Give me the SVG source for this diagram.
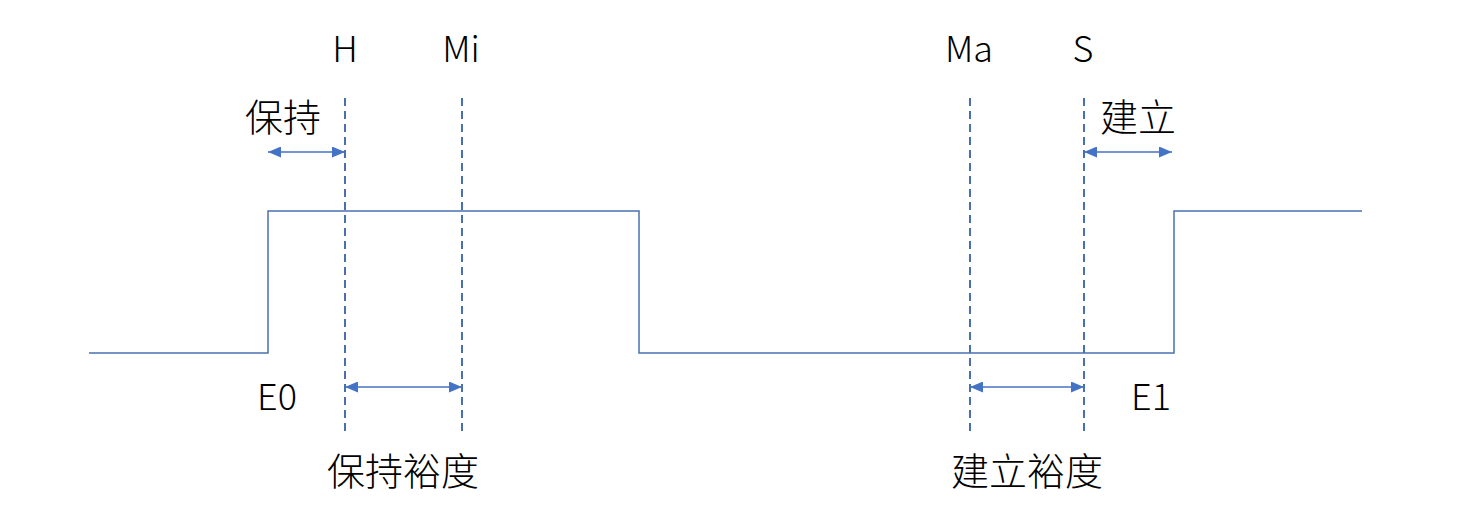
<svg xmlns="http://www.w3.org/2000/svg" width="1466" height="522" viewBox="0 0 1466 522">
<defs>
<marker id="ah" viewBox="0 0 13 11" refX="13" refY="5.5" markerWidth="13" markerHeight="11" markerUnits="userSpaceOnUse" orient="auto-start-reverse">
<path d="M0,0 L13,5.5 L0,11 Z" fill="#4472C4"/>
</marker>
<style>
.t{font-family:"Noto Sans CJK SC","Microsoft YaHei",sans-serif;font-size:36px;font-weight:300;fill:#000;text-anchor:middle}
.c{font-size:38px}
.dash{stroke:#4A6FAE;stroke-width:2;stroke-dasharray:8 5;fill:none}
.arr{stroke:#4472C4;stroke-width:1.5;fill:none;marker-start:url(#ah);marker-end:url(#ah)}
.wave{stroke:#4A72B0;stroke-width:1.5;fill:none}
</style>
</defs>
<rect width="1466" height="522" fill="#fff"/>
<g id="waveform">
<polyline class="wave" points="89,353 268,353 268,211 639,211 639,353 1174,353 1174,211 1362,211"/>
</g>
<g id="connectors">
<line class="dash" x1="345" y1="98" x2="345" y2="432"/>
<line class="dash" x1="462" y1="98" x2="462" y2="432"/>
<line class="dash" x1="970" y1="98" x2="970" y2="432"/>
<line class="dash" x1="1084" y1="98" x2="1084" y2="432"/>
<line class="arr" x1="268" y1="152" x2="345" y2="152"/>
<line class="arr" x1="345" y1="387" x2="462" y2="387"/>
<line class="arr" x1="970" y1="387" x2="1084" y2="387"/>
<line class="arr" x1="1084" y1="152" x2="1172" y2="152"/>
</g>
<g id="label-H"><text class="t" x="345" y="62">H</text></g>
<g id="label-Mi"><text class="t" x="461" y="62">Mi</text></g>
<g id="label-Ma"><text class="t" x="969" y="62">Ma</text></g>
<g id="label-S"><text class="t" x="1083" y="62">S</text></g>
<g id="label-hold"><text class="t c" x="283" y="131">保持</text></g>
<g id="label-setup"><text class="t c" x="1138" y="131">建立</text></g>
<g id="label-E0"><text class="t" x="277" y="410">E0</text></g>
<g id="label-E1"><text class="t" x="1151" y="410">E1</text></g>
<g id="label-hold-margin"><text class="t c" x="403" y="485">保持裕度</text></g>
<g id="label-setup-margin"><text class="t c" x="1027" y="485">建立裕度</text></g>
</svg>
